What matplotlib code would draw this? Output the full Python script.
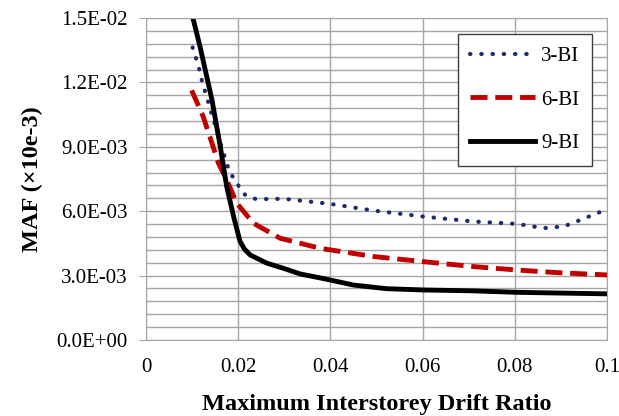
import matplotlib

matplotlib.use("Agg")
import matplotlib.pyplot as plt  # noqa: E402
from matplotlib.ticker import FuncFormatter, MultipleLocator  # noqa: E402

# drift ratio / MAF (x1e-3) readings per building
x_3bi = [0.0101, 0.0114, 0.0121, 0.0146, 0.0164, 0.0182, 0.0197, 0.0204, 0.0219, 0.024,
         0.0298, 0.040, 0.0493, 0.0602, 0.071, 0.0805, 0.0862, 0.0906, 0.0928, 0.0964, 0.100]
y_3bi = [13.63, 12.75, 12.1, 10.26, 9.0, 7.77, 7.38, 7.0, 6.68, 6.56,
         6.58, 6.34, 6.03, 5.75, 5.52, 5.41, 5.21, 5.29, 5.47, 5.78, 6.09]

x_6bi = [0.0099, 0.0124, 0.0143, 0.0157, 0.0175, 0.0197, 0.0233, 0.0291, 0.0378, 0.0493,
         0.0602, 0.071, 0.0805, 0.0891, 0.100]
y_6bi = [11.63, 10.41, 9.17, 8.24, 7.46, 6.37, 5.44, 4.74, 4.27, 3.89,
         3.65, 3.42, 3.26, 3.14, 3.03]

x_9bi = [0.0100, 0.0117, 0.0143, 0.0161, 0.0175, 0.019, 0.0204, 0.0214, 0.0226, 0.0262,
         0.0298, 0.0334, 0.0392, 0.045, 0.0522, 0.0602, 0.071, 0.0805, 0.100]
y_9bi = [15.15, 13.68, 11.19, 9.02, 7.15, 5.75, 4.59, 4.22, 3.96, 3.58,
         3.34, 3.08, 2.83, 2.56, 2.39, 2.33, 2.29, 2.22, 2.15]

labels = ["3-BI", "6-BI", "9-BI"]

plt.rcParams["font.family"] = ["Liberation Serif", "DejaVu Serif"]

fig = plt.figure(figsize=(6.19, 4.16), dpi=100)
ax = fig.add_axes([0.2359, 0.1827, 0.7447, 0.774])

grid_c = "#a6a6a6"
ax.plot(x_3bi, [v * 1e-3 for v in y_3bi], color="#1f2a6b", lw=3,
        ls=(0, (0.1, 2.6)), dash_capstyle="round", label=labels[0])
ax.plot(x_6bi, [v * 1e-3 for v in y_6bi], color="#c00000", lw=3.5,
        ls=(0, (3.5, 1.6)), label=labels[1])
ax.plot(x_9bi, [v * 1e-3 for v in y_9bi], color="black", lw=3.5, label=labels[2])

ax.set_xlim(0, 0.1)
ax.set_ylim(0, 0.015)
ax.xaxis.set_major_locator(MultipleLocator(0.02))
ax.yaxis.set_major_locator(MultipleLocator(0.003))
ax.yaxis.set_minor_locator(MultipleLocator(0.0006))
ax.xaxis.set_major_formatter(FuncFormatter(lambda v, p: "0" if v == 0 else f"{v:g}"))
ax.yaxis.set_major_formatter(FuncFormatter(lambda v, p: f"{v:.1E}" if v else "0.0E+00"))

ax.grid(True, which="both", color=grid_c, lw=1)
ax.set_axisbelow(True)
for s in ax.spines.values():
    s.set_color(grid_c)
ax.tick_params(axis="y", which="major", length=5, color=grid_c, labelsize=15, pad=8)
ax.tick_params(axis="y", which="minor", length=0)
ax.tick_params(axis="x", length=0, labelsize=15, pad=13)

ax.set_xlabel("Maximum Interstorey Drift Ratio", fontsize=17.5, fontweight="bold", labelpad=12)
ax.set_ylabel("MAF (×10e-3)", fontsize=17.5, fontweight="bold", labelpad=10)

leg = ax.legend(loc="upper right", bbox_to_anchor=(0.967, 0.95), borderaxespad=0,
                fontsize=15, fancybox=False, framealpha=1, edgecolor="#404040",
                handlelength=3.1, labelspacing=1.15, borderpad=0.6, handletextpad=0.3)
leg.get_frame().set_linewidth(1)

fig.savefig("out.png", dpi=100)
